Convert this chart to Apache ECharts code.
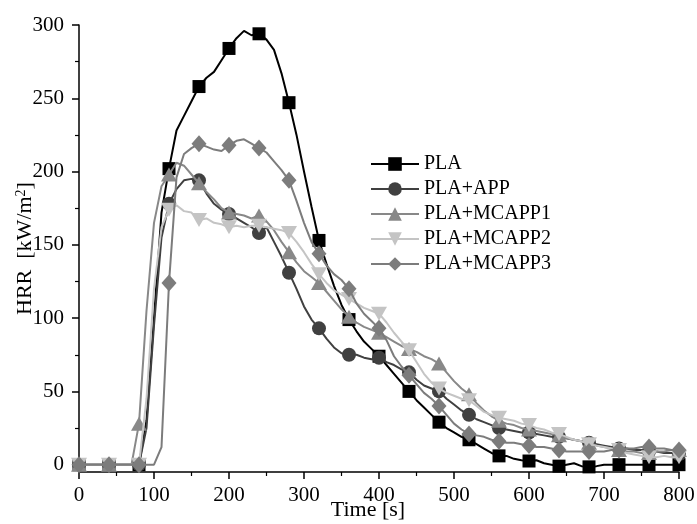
<!DOCTYPE html>
<html>
<head>
<meta charset="utf-8">
<script src="https://cdn.jsdelivr.net/npm/echarts@6/dist/echarts.min.js"></script>
<style>html,body{margin:0;padding:0;background:#fff}#c{width:697px;height:524px}</style>
</head>
<body>
<div id="c"></div>
<script>
// time axis (s), shared by all series
var time = [];
for (var t = 0; t <= 800; t += 10) time.push(t);

var seriesNames = ['PLA', 'PLA+APP', 'PLA+MCAPP1', 'PLA+MCAPP2', 'PLA+MCAPP3'];

var pla = [0,0,0,0,0,0,0,0,0,
  30,100,172,202,228,238,248,258,264,268,276,284,291,296,293,294,290,283,267,247,225,200,176,153,
  137,122,109,99,91,84,79,74,68,62,56,50,44,39,34,29,25,22,19,17,14,11,8,6,6,4,3,2.5,3,1,0,-1,0,1,-1,-1.5,-1,
  0,0,0,0,0,0,0,0,0,0,0];

var plaApp = [0,0,0,0,0,0,0,0,0,
  25,95,155,178,188,194,195,194,185,178,174,171,168,165,162,158,162,152,142,131,120,108,99,93,
  86,80,76,75,75,73,72,73,70,68,65,63,58,54,52,50,45,41,37,34,31,29,27,25,24,23,22,22,21,20,19,19,18,17,16,15,
  14,13,12,11,11,10,10,9,9,8,8,7];

var plaMcapp1 = [0,0,0,0,0,0,0,0,
  28,105,165,190,198,206,204,198,192,186,181,175,172,171,170,168,170,166,160,152,145,138,132,128,124,
  118,112,106,101,97,94,92,90,87,84,81,79,77,74,72,69,63,57,52,48,42,37,33,30,28,27,25,24,23,22,21,20,18,17,16,15,
  13,12,11,10,9,9,8,8,9,9,10,10];

var plaMcapp2 = [0,0,0,0,0,0,0,0,0,
  45,120,162,174,177,173,172,167,168,165,164,162,163,162,163,163,162,161,160,158,152,145,137,130,
  124,119,116,113,110,107,105,103,97,90,84,78,70,62,56,52,49,47,45,44,40,36,34,32,31,30,28,27,25,24,22,21,19,17,16,14,
  13,12,11,10,8,7,6,5,5,6,5,5];

var plaMcapp3 = [0,0,0,0,0,0,0,0,0,0,0,
  12,124,196,212,216,219,217,215,214,218,221,222,219,216,213,207,201,194,180,165,152,144,
  136,130,126,120,110,103,98,93,85,74,67,61,55,49,45,40,34,28,24,21,20,19,17,16,15,15,14,13,12,12,11,10,9,9,9,9,
  9,9,10,10,11,11,12,12,11,11,10,10];

var yTicks = [0, 50, 100, 150, 200, 250, 300];
var yMinorTicks = [25, 75, 125, 175, 225, 275];

var FONT = '"Liberation Serif", "Times New Roman", serif';
var colors = ['#000000', '#404040', '#888888', '#c4c4c4', '#7c7c7c'];
var symbols = ['rect', 'circle', 'triangle', 'path://M0,0 L10,0 L5,9 Z', 'diamond'];
var sizes = [[13, 13], 14, [16, 14], [16, 14], [15, 17]];
var values = [pla, plaApp, plaMcapp1, plaMcapp2, plaMcapp3];

function build(vals) {
  return vals.map(function (v, i) {
    var item = { value: [time[i], v] };
    if (time[i] % 40 !== 0) item.symbol = 'none';
    return item;
  });
}

var series = seriesNames.map(function (name, k) {
  return {
    name: name,
    type: 'line',
    xAxisIndex: 0,
    yAxisIndex: 0,
    data: build(values[k]),
    symbol: symbols[k],
    symbolSize: sizes[k],
    showAllSymbol: true,
    lineStyle: { color: colors[k], width: 2 },
    itemStyle: { color: colors[k] },
    emphasis: { disabled: true },
    z: 2 + k
  };
});

var chart = echarts.init(document.getElementById('c'), null, { renderer: 'canvas' });
chart.setOption({
  animation: false,
  backgroundColor: '#fff',
  grid: { left: 79, right: 18, top: 25, bottom: 52, containLabel: false, outerBoundsMode: 'none' },
  legend: {
    orient: 'vertical',
    left: 365,
    top: 149,
    itemWidth: 48,
    itemHeight: 17,
    itemGap: 5,
    textStyle: { fontFamily: FONT, fontSize: 20, color: '#000', lineHeight: 20 },
    data: seriesNames
  },
  xAxis: {
    type: 'value',
    min: 0, max: 800, interval: 100,
    name: 'Time [s]',
    nameLocation: 'middle',
    nameGap: 27,
    nameMoveOverlap: false,
    nameTextStyle: { fontFamily: FONT, fontSize: 22, color: '#000', padding: [0, 22, 0, 0] },
    axisLine: { onZero: false, lineStyle: { color: '#000', width: 1.5 } },
    axisTick: { inside: false, length: 7, lineStyle: { color: '#000', width: 1.5 } },
    minorTick: { show: true, splitNumber: 2, length: 4, lineStyle: { color: '#000', width: 1.2 } },
    axisLabel: { fontFamily: FONT, fontSize: 21, color: '#000', margin: 13 },
    splitLine: { show: false }
  },
  yAxis: [{
    type: 'value',
    min: -5, max: 300,
    position: 'left',
    name: '{a|HRR  [kW/m}{s|2}{a|]}',
    nameLocation: 'middle',
    nameGap: 43,
    nameMoveOverlap: false,
    nameRotate: 90,
    nameTextStyle: {
      rich: {
        a: { fontFamily: FONT, fontSize: 22, color: '#000' },
        s: { fontFamily: FONT, fontSize: 14, color: '#000', verticalAlign: 'top', padding: [0, 0, 8, 0] }
      }
    },
    axisLine: { show: true, onZero: false, lineStyle: { color: '#000', width: 1.5 } },
    axisTick: { show: true, inside: false, length: 7, customValues: yTicks, lineStyle: { color: '#000', width: 1.5 } },
    axisLabel: { fontFamily: FONT, fontSize: 21, color: '#000', margin: 15, customValues: yTicks },
    splitLine: { show: false }
  }, {
    type: 'value',
    min: -5, max: 300,
    position: 'left',
    offset: 0,
    axisLine: { show: false },
    axisTick: { show: true, inside: false, length: 4, customValues: yMinorTicks, lineStyle: { color: '#000', width: 1.2 } },
    axisLabel: { show: false },
    splitLine: { show: false }
  }],
  series: series
});
</script>
</body>
</html>
